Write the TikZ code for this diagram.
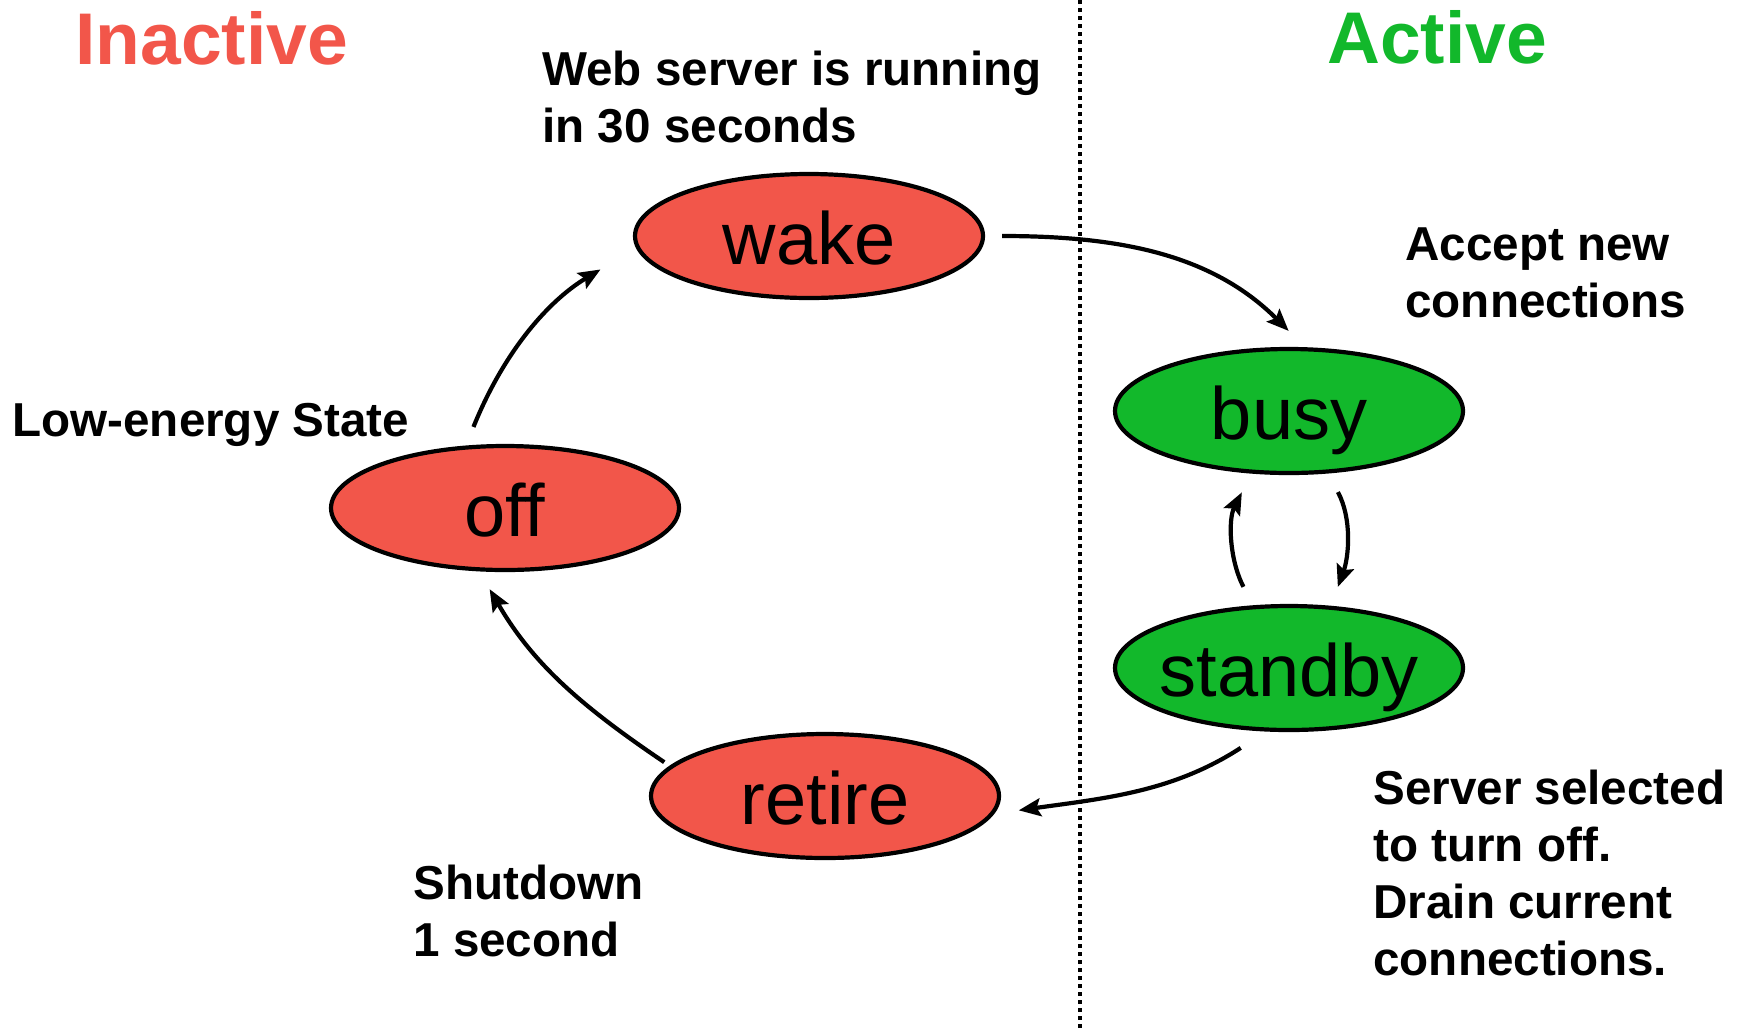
\documentclass[tikz,border=0pt]{standalone}
\usepackage{fontspec}
\setmainfont{Liberation Sans}
\usepackage{tikz}
\usetikzlibrary{shapes.geometric, arrows.meta}
\definecolor{offred}{HTML}{F2564A}
\definecolor{ongreen}{HTML}{12B82B}
\newcommand{\statename}[1]{\makebox[0pt]{#1}}

\begin{document}
\begin{tikzpicture}[x=0.5pt, y=0.5pt]
      \tikzstyle{every node}+=[inner sep=0pt]
      \tikzstyle{statenode}=[ellipse, draw=black, line width=2.1pt, minimum width=174pt, minimum height=62pt, text height=28pt, text depth=0pt, font=\fontsize{37pt}{40pt}\selectfont]
      \tikzstyle{heading}=[anchor=base west, font=\fontsize{36.6pt}{40pt}\selectfont\bfseries]
      \tikzstyle{remark}=[anchor=base west, align=left, font=\fontsize{23.8pt}{28.5pt}\selectfont\bfseries]
      \tikzstyle{trans}=[black, line width=2.1pt, -{Stealth[length=11pt,width=9pt,inset=2pt]}]
      \useasboundingbox (0,0) rectangle (1743,-1029);
      \coordinate (divtop) at (1080,0);
      \coordinate (divbot) at (1080,-1029);
      \draw [black, line width=1.8pt, dash pattern=on 1.8pt off 2.2pt] (divtop) -- (divbot);
      \node [heading, text=offred] (inactive) at (75,-64) {Inactive};
      \node [heading, text=ongreen] (active) at (1327,-63) {Active};
      \node [statenode, fill=offred] (wake) at (809,-236) {\statename{wake}};
      \node [statenode, fill=offred] (off) at (505,-508) {\statename{off}};
      \node [statenode, fill=offred] (retire) at (825,-796) {\statename{retire}};
      \node [statenode, fill=ongreen] (busy) at (1289,-411) {\statename{busy}};
      \node [statenode, fill=ongreen] (standby) at (1289,-668) {\statename{standby}};
      % multi-line notes sit on the baseline of their last line
      \node [remark] (webnote) at (542,-142) {Web server is running\\in 30 seconds};
      \node [remark] (acceptnote) at (1405,-317) {Accept new\\connections};
      \node [remark] (lownote) at (12,-436) {Low-energy State};
      \node [remark] (shutnote) at (413,-956) {Shutdown\\1 second};
      \node [remark] (drainnote) at (1373,-975) {Server selected\\to turn off.\\Drain current\\connections.};
      \draw [trans, shorten <=10pt, shorten >=20.75pt] (off.122) to[out=68, in=211] (wake.184);
      \draw [trans, shorten <=8.5pt, shorten >=11.5pt] (wake.east) to[out=0, in=135] (busy.76);
      \draw [trans, shorten <=10.5pt, shorten >=10pt] (busy.-58) to[out=-62, in=70] (standby.56);
      \draw [trans, shorten <=10.35pt, shorten >=10.5pt] (standby.120) to[out=117, in=-117] (busy.-121);
      \draw [trans, shorten <=15pt, shorten >=12.4pt] (standby.-110) to[out=-147, in=8] (retire.-6);
      \draw [trans, shorten <=3.25pt, shorten >=10.25pt] (retire.169) to[out=146, in=-60] (off.-112);
    \end{tikzpicture}
\end{document}
